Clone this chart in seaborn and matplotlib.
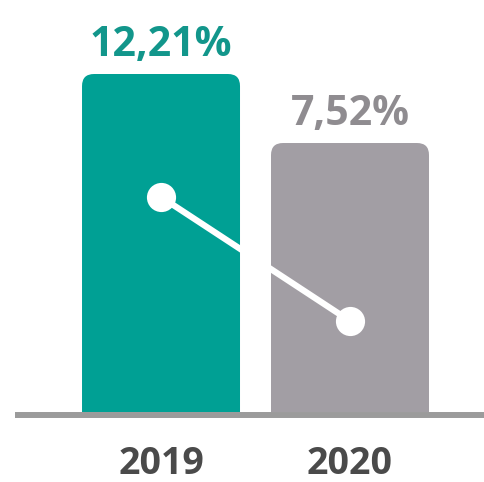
import matplotlib
matplotlib.use("Agg")
import matplotlib.pyplot as plt
from matplotlib.patches import FancyBboxPatch, Rectangle
import seaborn as sns

# Data
years = ["2019", "2020"]
rates = [12.21, 7.52]
rate_labels = ["12,21%", "7,52%"]

bar_colors = ["#00a094", "#a29ea4"]
label_colors = ["#12968b", "#8f8c90"]
year_color = "#4a4a4a"
axis_color = "#9b9b9b"

sns.set_theme(style="white")
plt.rcParams["font.family"] = ["Open Sans", "DejaVu Sans"]

fig = plt.figure(figsize=(4.84, 4.82), dpi=100)
ax = fig.add_axes([0, 0, 1, 1])

sns.barplot(x=years, y=rates, hue=years, palette=bar_colors, legend=False,
            width=0.836, saturation=1, ax=ax)

# Value scale: the bars rise from a baseline below zero
base = -10.76
y_lo, y_hi = -15.52, 17.24
x_lo, x_hi = -0.852, 1.709
ax.set_ylim(y_lo, y_hi)
ax.set_xlim(x_lo, x_hi)

W, H = fig.get_size_inches() * fig.dpi
x_per_px = (x_hi - x_lo) / W
y_per_px = (y_hi - y_lo) / H

# Replace the plain bars with bars that have rounded top corners
radius_px = 12
bars = list(ax.patches)
for p, val in zip(bars, rates):
    x, w = p.get_x(), p.get_width()
    fc = p.get_facecolor()
    p.remove()
    bottom = base - 2
    fb = FancyBboxPatch(
        (x, bottom), w, val - bottom,
        boxstyle=f"round,pad=0,rounding_size={radius_px * x_per_px}",
        mutation_aspect=y_per_px / x_per_px,
        facecolor=fc, edgecolor="none", zorder=2,
    )
    ax.add_patch(fb)
    clip = Rectangle((x_lo, base), x_hi - x_lo, y_hi - base,
                     transform=ax.transData)
    fb.set_clip_path(clip)

# Baseline
ax.axhline(base - 3.5 * y_per_px, xmin=15 / W, xmax=1, color=axis_color,
           linewidth=4.3, zorder=3, solid_capstyle="butt")

# Value labels above the bars
for i, (val, lab, c) in enumerate(zip(rates, rate_labels, label_colors)):
    ax.annotate(lab, (i, val), xytext=(0, 13), textcoords="offset points",
                ha="center", va="baseline", fontsize=29.5,
                fontweight="bold", color=c, annotation_clip=False)

# Category labels under the baseline
for i, yr in enumerate(years):
    ax.annotate(yr, (i, base), xytext=(0, -44.5), textcoords="offset points",
                ha="center", va="baseline", fontsize=27,
                fontweight="bold", color=year_color, annotation_clip=False)

ax.set_axis_off()

# Trend line on its own scale
ax2 = ax.twinx()
sns.lineplot(x=[0, 1], y=rates, ax=ax2, color="white", linewidth=4.5,
             marker="o", markersize=21, markeredgewidth=0, legend=False)
ax2.set_ylim(1.43, 19.66)
ax2.set_xlim(x_lo, x_hi)
ax2.set_axis_off()

fig.savefig("out.png", dpi=100, facecolor="white")
